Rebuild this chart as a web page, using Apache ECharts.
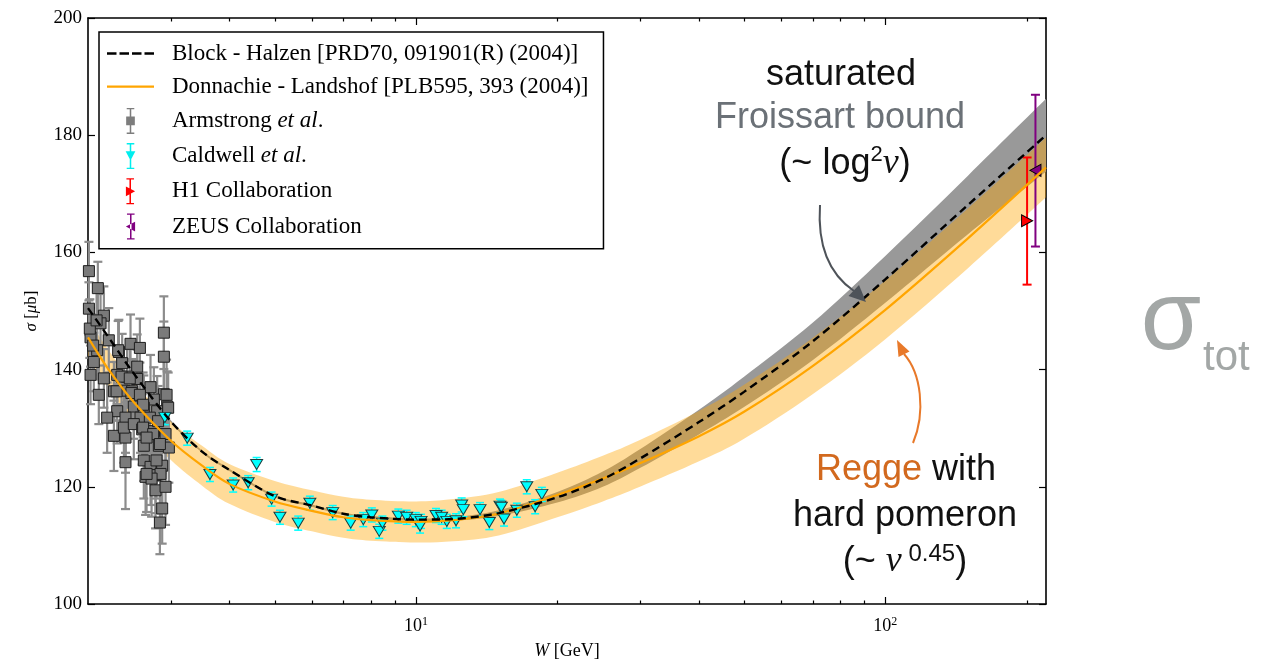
<!DOCTYPE html>
<html>
<head>
<meta charset="utf-8">
<title>sigma tot</title>
<script src="https://cdn.jsdelivr.net/npm/echarts@6/dist/echarts.min.js"></script>
<style>
  html, body { margin: 0; padding: 0; background: #fff; }
  #chart { width: 1278px; height: 665px; }
</style>
</head>
<body>
<div id="chart"></div>
<script>
// ---- model curves ----
const curveW = [2, 2.2, 2.5, 3, 3.5, 4, 5, 6, 7, 8, 10, 12, 15, 20, 25, 30, 40, 50, 70, 100, 150, 220];
const blockHalzen = [150.5, 145.8, 139.4, 131.2, 126.0, 122.9, 118.4, 116.8, 115.4, 114.8, 114.4, 114.5, 115.5, 118.2, 121.3, 124.8, 131.0, 136.2, 144.8, 155.4, 168.1, 180.0];
const bhLow = [150.3, 145.6, 139.2, 131.0, 125.8, 122.7, 118.2, 116.6, 115.2, 114.6, 114.2, 114.2, 115.0, 117.3, 120.0, 123.2, 128.9, 133.6, 141.6, 151.4, 163.1, 173.8];
const bhHigh = [150.7, 146.0, 139.6, 131.4, 126.2, 123.1, 118.6, 117.0, 115.6, 115.0, 114.6, 114.8, 116.0, 119.1, 122.6, 126.4, 133.1, 138.8, 148.0, 159.4, 173.1, 186.2];
const donnachie = [145.5, 140.3, 134.5, 127.9, 123.6, 120.5, 117.5, 115.9, 114.8, 114.3, 114.0, 114.3, 115.4, 118.6, 121.4, 124.0, 128.6, 132.8, 140.6, 150.2, 162.4, 174.5];
const dlLow = [142.2, 137.0, 131.2, 124.6, 120.2, 117.1, 114.0, 112.4, 111.3, 110.8, 110.5, 110.7, 111.7, 114.8, 117.5, 120.0, 124.3, 128.2, 135.8, 145.2, 157.3, 169.4];
const dlHigh = [148.8, 143.6, 137.8, 131.2, 127.0, 123.9, 121.0, 119.4, 118.3, 117.8, 117.5, 117.9, 119.1, 122.4, 125.3, 128.0, 132.9, 137.4, 145.4, 155.2, 167.5, 179.6];

// ---- Armstrong et al. ----
const armW = [2.009, 2.099, 2.009, 2.162, 2.127, 2.025, 2.215, 2.327, 2.464, 2.580,
    2.902, 2.902, 2.092, 2.058, 2.365, 2.546, 2.025, 2.308, 2.423, 2.546,
    2.162, 2.718, 2.109, 2.271, 2.385, 2.484, 2.902, 2.763, 2.949, 2.308,
    2.504, 2.630, 2.808, 2.197, 2.404, 2.588, 2.271, 2.404, 2.385, 2.504,
    2.609, 2.763, 2.926, 2.630, 2.831, 2.974, 2.404, 2.630, 2.718, 2.878,
    2.653, 2.786, 2.855, 2.786, 2.926, 2.878, 2.846, 2.051, 2.018, 2.086,
    2.319, 2.301, 2.358, 2.455, 2.475, 2.580, 2.621, 2.709, 2.621, 2.754,
    2.821, 2.846, 2.799, 2.732, 2.666, 2.666, 2.964, 2.941];
const armSigma = [156.8, 153.9, 150.4, 149.2, 147.9, 145.5, 145.0, 143.0, 144.4, 143.7,
    146.3, 142.2, 143.3, 141.3, 141.1, 140.5, 139.1, 139.1, 138.8, 138.4,
    138.5, 137.0, 135.7, 136.3, 136.4, 136.3, 135.8, 134.9, 133.7, 132.9,
    133.7, 133.5, 132.9, 131.8, 131.8, 131.8, 128.7, 128.4, 130.1, 130.7,
    129.8, 129.5, 129.0, 127.0, 127.0, 126.7, 124.2, 124.5, 123.4, 123.6,
    121.7, 122.0, 122.2, 119.4, 120.0, 116.3, 113.9, 144.1, 147.0, 148.4,
    143.3, 136.3, 138.8, 138.5, 136.0, 135.7, 134.0, 131.8, 130.1, 129.0,
    131.2, 127.3, 124.5, 121.4, 128.4, 122.2, 133.5, 135.7];
const armErr = [5.0, 4.5, 4.5, 5.0, 5.0, 5.0, 5.5, 5.5, 5.0, 5.0,
    6.2, 6.0, 5.0, 5.0, 5.0, 5.5, 5.0, 5.0, 5.0, 5.0,
    5.0, 5.5, 5.0, 5.0, 5.0, 5.5, 6.0, 5.5, 6.0, 5.5,
    5.5, 5.5, 6.0, 6.0, 6.0, 6.0, 6.0, 6.0, 6.0, 6.0,
    6.0, 6.0, 6.0, 6.0, 6.0, 6.0, 8.0, 6.5, 6.5, 6.5,
    6.5, 6.5, 6.5, 6.5, 6.5, 6.0, 5.4, 5.0, 5.0, 5.0,
    5.0, 5.0, 5.0, 5.0, 5.5, 5.5, 5.5, 6.0, 6.0, 6.0,
    6.0, 6.0, 6.5, 6.5, 6.0, 6.5, 6.0, 6.0];

// ---- Caldwell et al. ----
const calW = [2.916, 3.254, 3.638, 4.077, 4.389, 4.575, 4.923, 5.129, 5.61, 5.94,
    6.644, 7.257, 7.72, 8.05, 8.35, 8.48, 9.17, 9.55, 9.99, 10.25,
    10.2, 11.03, 11.34, 11.63, 12.17, 12.51, 12.61, 13.69, 14.33, 15.10,
    15.20, 15.40, 16.40, 17.22, 17.94, 18.54];
const calSigma = [131.8, 128.3, 122.1, 120.3, 120.7, 123.8, 117.9, 114.8, 113.8, 117.2,
    115.6, 113.8, 114.4, 115.2, 112.4, 113.8, 115.0, 114.8, 114.4, 114.1,
    113.3, 115.1, 114.8, 114.1, 114.2, 116.9, 116.1, 116.1, 113.9, 116.7,
    116.5, 114.5, 116.0, 120.0, 116.6, 118.7];
const calErr = [1.2, 1.2, 1.2, 1.2, 1.2, 1.2, 1.2, 1.2, 1.2, 1.2,
    1.2, 1.2, 1.2, 1.2, 1.2, 1.2, 1.2, 1.2, 1.2, 1.2,
    1.2, 1.2, 1.2, 1.2, 1.2, 1.2, 1.2, 1.2, 1.2, 1.2,
    1.2, 1.2, 1.2, 1.2, 1.2, 1.2];

// ---- HERA ----
const h1W = [200.5];
const h1Sigma = [165.4];
const h1Low = [154.5];
const h1High = [176.2];
const zeusW = [208.9];
const zeusSigma = [174.0];
const zeusLow = [161.0];
const zeusHigh = [186.9];

// ---- ticks ----
const xMajorTicks = [10, 100];
const xMinorTicks = [3, 4, 5, 6, 7, 8, 9, 20, 30, 40, 50, 60, 70, 80, 90, 200];

const SERIF = '"Liberation Serif", "Times New Roman", "DejaVu Serif", serif';
const SANS = '"Liberation Sans", Helvetica, Arial, sans-serif';

const names = {
    bh: 'Block - Halzen [PRD70, 091901(R) (2004)]',
    dl: 'Donnachie - Landshof [PLB595, 393 (2004)]',
    arm: 'Armstrong et al.',
    cal: 'Caldwell et al.',
    h1: 'H1 Collaboration',
    zeus: 'ZEUS Collaboration'
};

function pairs(xs, ys) {
    return xs.map((x, i) => [x, ys[i]]);
}

// cubic segments through pixel points (catmull-rom)
function curveThrough(pts) {
    let d = '';
    for (let i = 0; i < pts.length - 1; i++) {
        const p0 = pts[Math.max(i - 1, 0)];
        const p1 = pts[i];
        const p2 = pts[i + 1];
        const p3 = pts[Math.min(i + 2, pts.length - 1)];
        const c1x = p1[0] + (p2[0] - p0[0]) / 6;
        const c1y = p1[1] + (p2[1] - p0[1]) / 6;
        const c2x = p2[0] - (p3[0] - p1[0]) / 6;
        const c2y = p2[1] - (p3[1] - p1[1]) / 6;
        d += ' C' + c1x + ',' + c1y + ' ' + c2x + ',' + c2y + ' ' + p2[0] + ',' + p2[1];
    }
    return d;
}

// filled band between lo and hi, one smooth outline through the axes
function bandSeries(name, xs, lo, hi, fill) {
    return {
        name: name,
        type: 'custom',
        silent: true,
        clip: true,
        encode: { x: 0, y: [1, 2] },
        data: xs.map((x, i) => [x, lo[i], hi[i]]),
        renderItem: function (params, api) {
            if (params.dataIndex !== 0) {
                return null;
            }
            const upper = xs.map((x, i) => api.coord([x, hi[i]]));
            const lower = xs.map((x, i) => api.coord([x, lo[i]])).reverse();
            const d = 'M' + upper[0][0] + ',' + upper[0][1] + curveThrough(upper) +
                ' L' + lower[0][0] + ',' + lower[0][1] + curveThrough(lower) + ' Z';
            return { type: 'path', shape: { pathData: d }, style: { fill: fill } };
        }
    };
}

// vertical error bars with caps
function errorBars(name, xs, lo, hi, color, width, cap) {
    return {
        name: name,
        type: 'custom',
        silent: true,
        encode: { x: 0, y: [1, 2] },
        data: xs.map((x, i) => [x, lo[i], hi[i]]),
        renderItem: function (params, api) {
            const top = api.coord([api.value(0), api.value(2)]);
            const bot = api.coord([api.value(0), api.value(1)]);
            const st = { stroke: color, lineWidth: width };
            const h = cap / 2;
            return {
                type: 'group',
                children: [
                    { type: 'line', shape: { x1: top[0], y1: top[1], x2: bot[0], y2: bot[1] }, style: st },
                    { type: 'line', shape: { x1: top[0] - h, y1: top[1], x2: top[0] + h, y2: top[1] }, style: st },
                    { type: 'line', shape: { x1: bot[0] - h, y1: bot[1], x2: bot[0] + h, y2: bot[1] }, style: st }
                ]
            };
        }
    };
}

function logAxis(position, withLabels) {
    return {
        type: 'log',
        logBase: 10,
        min: 2,
        max: 220,
        position: position,
        axisLine: { show: true, onZero: false, lineStyle: { color: '#000', width: 1.6 } },
        axisTick: { show: false },
        axisLabel: withLabels ? {
            show: true,
            customValues: xMajorTicks,
            margin: 12,
            formatter: v => '{b|10}{s|' + Math.round(Math.log10(v)) + '}',
            rich: {
                b: { fontFamily: SERIF, fontSize: 18, color: '#000', lineHeight: 20 },
                s: { fontFamily: SERIF, fontSize: 12, color: '#000', verticalAlign: 'top', lineHeight: 12 }
            }
        } : { show: false },
        splitLine: { show: false },
        minorTick: { show: false }
    };
}

const xBottom = logAxis('bottom', true);
xBottom.name = '{i|W} [GeV]';
xBottom.nameLocation = 'middle';
xBottom.nameGap = 38;
xBottom.nameTextStyle = {
    fontFamily: SERIF, fontSize: 18, color: '#000',
    rich: { i: { fontFamily: SERIF, fontSize: 18, fontStyle: 'italic', color: '#000' } }
};

function text(x, y, style) {
    return {
        type: 'text', x: x, y: y, z: 100,
        style: Object.assign({ textAlign: 'center', align: 'center', textVerticalAlign: 'middle', verticalAlign: 'middle' }, style)
    };
}

const annotations = [
    // saturated Froissart bound
    text(841, 75, { text: 'saturated', font: '36px ' + SANS, fill: '#111' }),
    text(840, 118, { text: 'Froissart bound', font: '36px ' + SANS, fill: '#6b7177' }),
    text(845, 164, {
        text: '{n|(~ log}{s|2}{v|ν}{n|)}',
        rich: {
            n: { font: '36px ' + SANS, fill: '#111', lineHeight: 40 },
            s: { font: '22px ' + SANS, fill: '#111', verticalAlign: 'top', lineHeight: 20 },
            v: { font: 'italic 36px ' + SERIF, fill: '#111', lineHeight: 40 }
        }
    }),
    // Regge with hard pomeron
    text(906, 470, {
        text: '{o|Regge}{n| with}',
        rich: {
            o: { font: '36px ' + SANS, fill: '#d2691e', lineHeight: 40 },
            n: { font: '36px ' + SANS, fill: '#111', lineHeight: 40 }
        }
    }),
    text(905, 516, { text: 'hard pomeron', font: '36px ' + SANS, fill: '#111' }),
    text(905, 562, {
        text: '{n|(~ }{v|ν}{s| 0.45}{n|)}',
        rich: {
            n: { font: '36px ' + SANS, fill: '#111', lineHeight: 40 },
            s: { font: '24px ' + SANS, fill: '#111', verticalAlign: 'top', lineHeight: 20 },
            v: { font: 'italic 36px ' + SERIF, fill: '#111', lineHeight: 40 }
        }
    }),
    // sigma_tot
    text(1171, 322, { text: 'σ', font: '98px ' + SANS, fill: '#a3a7a6' }),
    text(1203, 358, { text: 'tot', font: '42px ' + SANS, fill: '#a3a7a6', textAlign: 'left', align: 'left' }),
    // arrows
    { type: 'bezierCurve', z: 100, shape: { x1: 820, y1: 205, cpx1: 817, cpy1: 250, cpx2: 832, cpy2: 276, x2: 854, y2: 291 }, style: { stroke: '#4e5359', lineWidth: 2, fill: null } },
    { type: 'polygon', z: 100, shape: { points: [[866, 302], [848.5, 296], [859, 285]] }, style: { fill: '#4e5359' } },
    { type: 'bezierCurve', z: 100, shape: { x1: 913, y1: 443, cpx1: 926, cpy1: 412, cpx2: 921, cpy2: 373, x2: 904, y2: 354 }, style: { stroke: '#e8792a', lineWidth: 2, fill: null } },
    { type: 'polygon', z: 100, shape: { points: [[897, 340], [909.5, 351.5], [898.5, 357]] }, style: { fill: '#e8792a' } }
];

const option = {
    animation: false,
    backgroundColor: '#fff',
    grid: { left: 88, top: 18, width: 958, height: 594, containLabel: false },
    xAxis: [xBottom, logAxis('top', false)],
    yAxis: [
        {
            type: 'value', min: 100, max: 200, interval: 20, position: 'left',
            axisLine: { show: true, onZero: false, lineStyle: { color: '#000', width: 1.6 } },
            axisTick: { show: true, inside: true, length: 7, lineStyle: { color: '#000', width: 1.2 } },
            axisLabel: { margin: 6, fontFamily: SERIF, fontSize: 19, color: '#000' },
            splitLine: { show: false },
            name: '{i|σ} [{i|μ}b]',
            nameLocation: 'middle',
            nameRotate: 90,
            nameGap: 48,
            nameTextStyle: {
                fontFamily: SERIF, fontSize: 17, color: '#000',
                rich: { i: { fontFamily: SERIF, fontSize: 17, fontStyle: 'italic', color: '#000' } }
            }
        },
        {
            type: 'value', min: 100, max: 200, interval: 20, position: 'right',
            axisLine: { show: true, onZero: false, lineStyle: { color: '#000', width: 1.6 } },
            axisTick: { show: true, inside: true, length: 7, lineStyle: { color: '#000', width: 1.2 } },
            axisLabel: { show: false },
            splitLine: { show: false }
        }
    ],
    legend: {
        orient: 'vertical',
        left: 99,
        top: 32,
        padding: [9.5, 15, 9.3, 8],
        backgroundColor: '#fff',
        borderColor: '#000',
        borderWidth: 1.5,
        borderRadius: 0,
        itemWidth: 47,
        itemHeight: 26,
        itemGap: 9.2,
        selectedMode: false,
        textStyle: {
            fontFamily: SERIF, fontSize: 23, color: '#000', lineHeight: 24,
            padding: [0, 0, 0, 13],
            rich: { i: { fontFamily: SERIF, fontSize: 23, fontStyle: 'italic', color: '#000' } }
        },
        formatter: function (name) {
            const m = name.match(/^(.*) et al\.$/);
            return m ? m[1] + ' {i|et al}.' : name;
        },
        data: [
            { name: names.bh, icon: 'path://M0,0h9.5v2.4h-9.5z M12.5,0h9.5v2.4h-9.5z M25,0h9.5v2.4h-9.5z M37.5,0h9.5v2.4h-9.5z', itemStyle: { color: '#000', borderWidth: 0 } },
            { name: names.dl, icon: 'path://M0,0h47v2.2h-47z', itemStyle: { color: '#ffa500', borderWidth: 0 } },
            { name: names.arm, icon: 'path://M4.3,0h1.4v24h-1.4z M1.5,0h7v1.2h-7z M1.5,22.8h7v1.2h-7z M1,8h8v8h-8z', itemStyle: { color: '#7d7d7d', borderWidth: 0 } },
            { name: names.cal, icon: 'path://M4.3,0h1.4v24h-1.4z M1.5,0h7v1.2h-7z M1.5,22.8h7v1.2h-7z M0.5,7.5L9.5,7.5L5,16z', itemStyle: { color: '#00eeee', borderWidth: 0 } },
            { name: names.h1, icon: 'path://M4.3,0h1.4v24h-1.4z M1.5,0h7v1.2h-7z M1.5,22.8h7v1.2h-7z M1,7.5L9.5,12L1,16.5z', itemStyle: { color: '#ff0000', borderWidth: 0 } },
            { name: names.zeus, icon: 'path://M4.3,0h1.4v24h-1.4z M1.5,0h7v1.2h-7z M1.5,22.8h7v1.2h-7z M9,7.5L0.5,12L9,16.5z', itemStyle: { color: '#800080', borderWidth: 0 } }
        ]
    },
    series: [
        bandSeries('bh-band', curveW, bhLow, bhHigh, '#999999'),
        bandSeries('dl-band', curveW, dlLow, dlHigh, 'rgba(255,165,0,0.4)'),
        {
            name: names.dl, type: 'line', silent: true, smooth: 0.3, symbol: 'none',
            color: '#ffa500',
            lineStyle: { color: '#ffa500', width: 2.2 },
            data: pairs(curveW, donnachie)
        },
        {
            name: names.bh, type: 'line', silent: true, smooth: 0.3, symbol: 'none',
            color: '#000',
            lineStyle: { color: '#000', width: 2.4, type: [8, 5] },
            data: pairs(curveW, blockHalzen)
        },
        errorBars('arm-err', armW, armSigma.map((s, i) => s - armErr[i]), armSigma.map((s, i) => s + armErr[i]), '#8c8c8c', 2.2, 9),
        {
            name: names.arm, type: 'scatter', silent: true,
            symbol: 'rect', symbolSize: 11,
            itemStyle: { color: '#7a7a7a', borderColor: '#1e1e1e', borderWidth: 1, opacity: 1 },
            data: pairs(armW, armSigma)
        },
        errorBars('cal-err', calW, calSigma.map((s, i) => s - calErr[i]), calSigma.map((s, i) => s + calErr[i]), '#00ffff', 1.5, 8),
        {
            name: names.cal, type: 'scatter', silent: true,
            symbol: 'triangle', symbolRotate: 180, symbolSize: [12, 10],
            itemStyle: { color: '#00ffff', borderColor: '#1d3d3d', borderWidth: 1, opacity: 1 },
            data: pairs(calW, calSigma)
        },
        errorBars('h1-err', h1W, h1Low, h1High, '#ff0000', 2, 9),
        {
            name: names.h1, type: 'scatter', silent: true,
            symbol: 'triangle', symbolRotate: -90, symbolSize: [12, 11],
            itemStyle: { color: '#ff0000', borderColor: '#000', borderWidth: 1, opacity: 1 },
            data: pairs(h1W, h1Sigma)
        },
        errorBars('zeus-err', zeusW, zeusLow, zeusHigh, '#800080', 2, 9),
        {
            name: names.zeus, type: 'scatter', silent: true,
            symbol: 'triangle', symbolRotate: 90, symbolSize: [12, 11],
            itemStyle: { color: '#800080', borderColor: '#000', borderWidth: 1, opacity: 1 },
            data: pairs(zeusW, zeusSigma)
        }
    ],
    graphic: annotations
};

const chart = echarts.init(document.getElementById('chart'));
chart.setOption(option);

// inward x ticks on bottom and top frame, placed with the axis scale
const yBottom = chart.convertToPixel({ yAxisIndex: 0 }, 100);
const yTop = chart.convertToPixel({ yAxisIndex: 0 }, 200);
const ticks = [];
[[xMajorTicks, 7], [xMinorTicks, 3.5]].forEach(function (set) {
    set[0].forEach(function (v) {
        const x = Math.round(chart.convertToPixel({ xAxisIndex: 0 }, v)) + 0.5;
        const st = { stroke: '#000', lineWidth: 1.2 };
        ticks.push({ type: 'line', z: 90, shape: { x1: x, y1: yBottom, x2: x, y2: yBottom - set[1] }, style: st });
        ticks.push({ type: 'line', z: 90, shape: { x1: x, y1: yTop, x2: x, y2: yTop + set[1] }, style: st });
    });
});
chart.setOption({ graphic: annotations.concat(ticks) });
</script>
</body>
</html>
